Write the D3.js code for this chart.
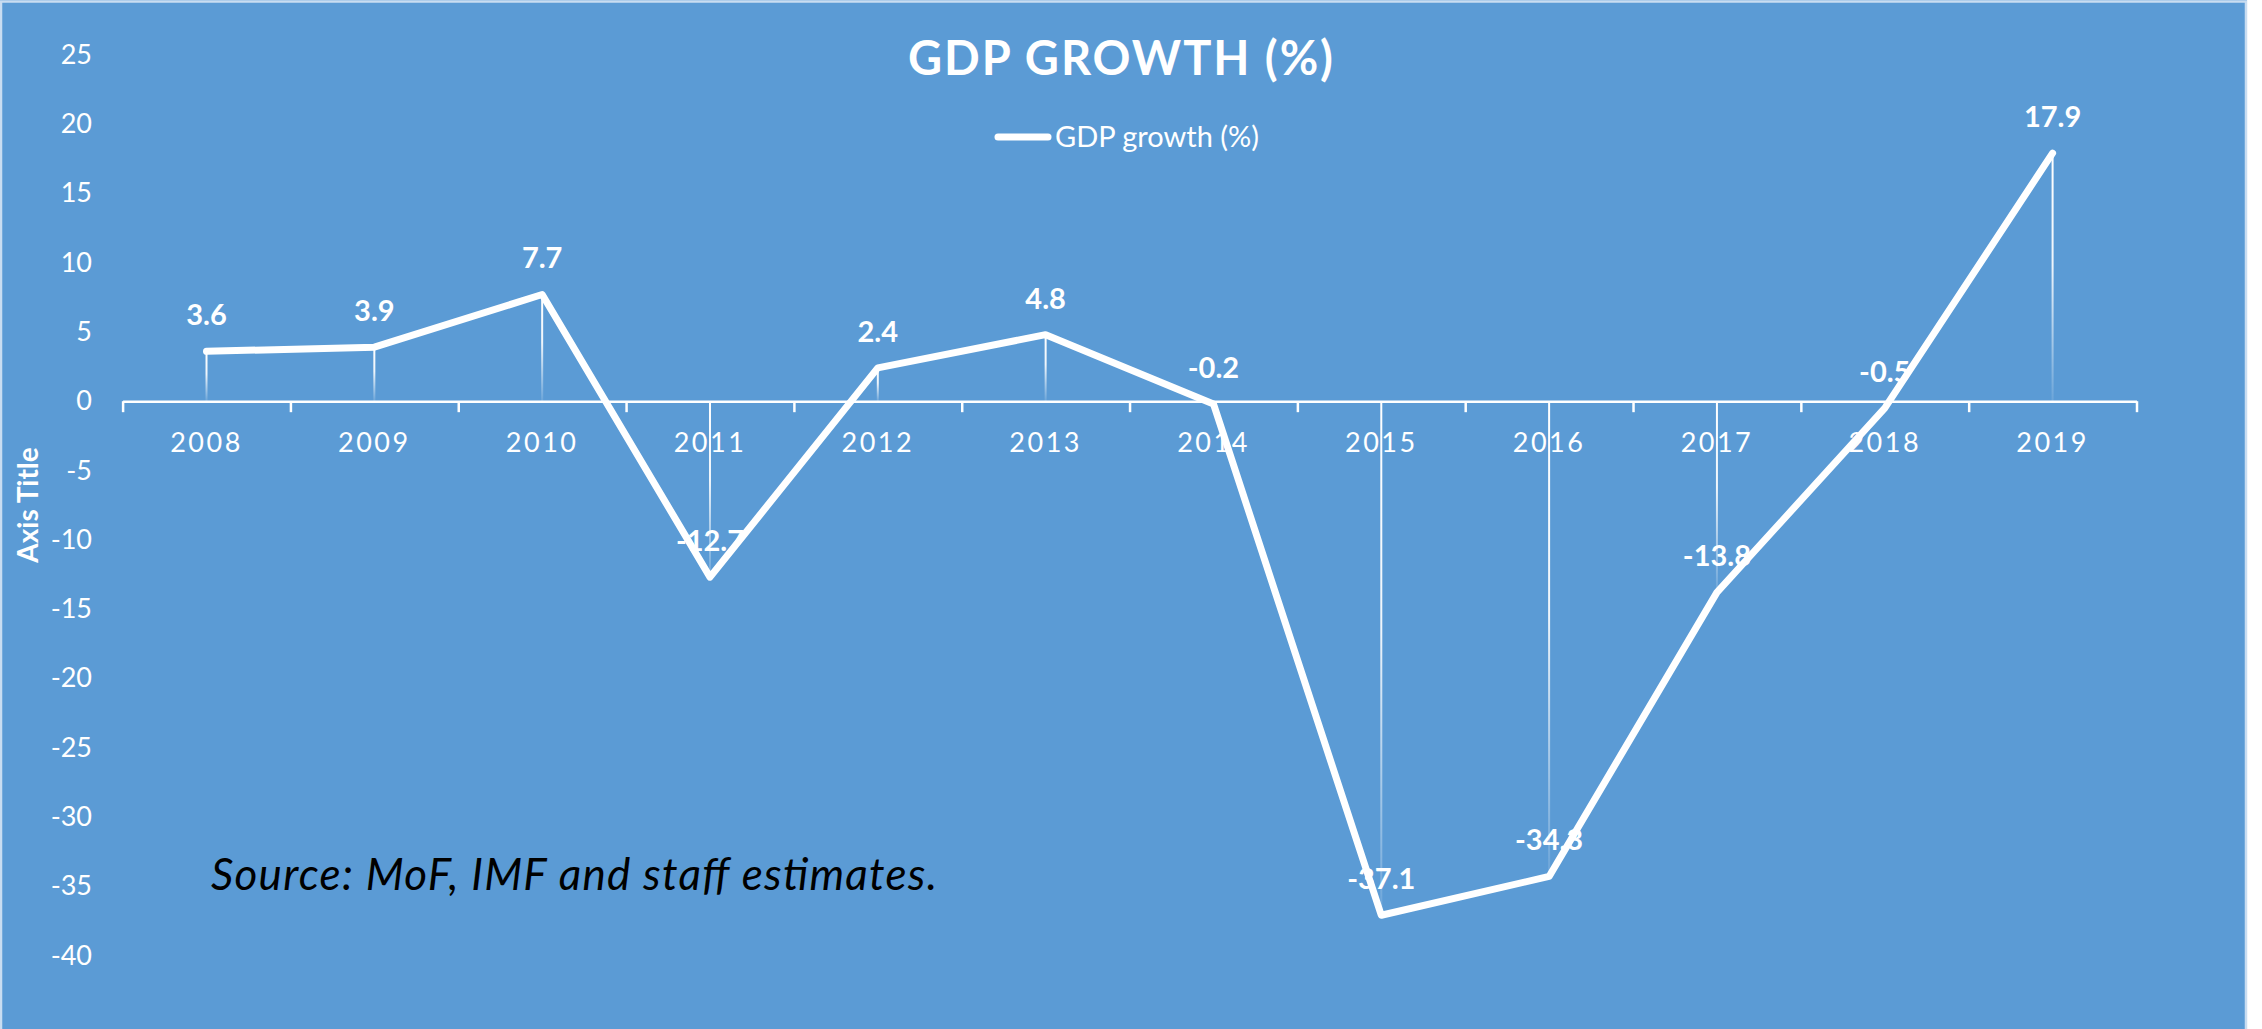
<!DOCTYPE html>
<html>
<head>
<meta charset="utf-8">
<script src="https://cdn.jsdelivr.net/npm/d3@7"></script>
<style>
  html, body { margin: 0; padding: 0; background: #ffffff; }
  svg { display: block; }
  text { font-family: Lato, "Open Sans", sans-serif; }
</style>
</head>
<body>
<svg id="chart" width="2262" height="1029"></svg>
<script>
// Annual GDP growth, percent
const years = ["2008", "2009", "2010", "2011", "2012", "2013", "2014", "2015", "2016", "2017", "2018", "2019"];
const growth = [3.6, 3.9, 7.7, -12.7, 2.4, 4.8, -0.2, -37.1, -34.3, -13.8, -0.5, 17.9];
const yTicks = [25, 20, 15, 10, 5, 0, -5, -10, -15, -20, -25, -30, -35, -40];

const chartTitle = "GDP GROWTH (%)";
const seriesName = "GDP growth (%)";
const yAxisTitle = "Axis Title";
const sourceNote = "Source: MoF, IMF and staff estimates.";

const W = 2262, H = 1029;
const panelW = 2247;
const bg = "#5B9BD5";
const fg = "#ffffff";

const svg = d3.select("#chart");
const defs = svg.append("defs");

// drop-line fade: bright at the top, fading towards the bottom
const grad = defs.append("linearGradient")
  .attr("id", "dropFade")
  .attr("x1", 0).attr("y1", 0).attr("x2", 0).attr("y2", 1);
grad.append("stop").attr("offset", "0%").attr("stop-color", "#fff").attr("stop-opacity", 1);
grad.append("stop").attr("offset", "45%").attr("stop-color", "#fff").attr("stop-opacity", 0.9);
grad.append("stop").attr("offset", "100%").attr("stop-color", "#fff").attr("stop-opacity", 0.1);

// panel
svg.append("rect").attr("x", 0).attr("y", 0).attr("width", panelW).attr("height", H).attr("fill", bg);
svg.append("path")
  .attr("d", `M1,${H} L1,1.5 L${panelW - 1},1.5 L${panelW - 1},${H}`)
  .attr("fill", "none").attr("stroke", "#c9ddf1").attr("stroke-width", 2.5);

// scales
const x = d3.scaleBand().domain(years).range([122.6, 2136.5]).padding(0);
const xEdge = d3.scaleLinear().domain([0, years.length]).range([122.6, 2136.5]);
const y = d3.scaleLinear().domain([-40, 25]).range([955.4, 54.8]);
const cx = d => x(d) + x.bandwidth() / 2;

// y axis: labels only
const yAxis = svg.append("g")
  .attr("transform", "translate(100,0)")
  .call(d3.axisLeft(y).tickValues(yTicks).tickSize(0).tickPadding(8).tickFormat(d => String(d)));
yAxis.select(".domain").remove();
yAxis.selectAll("text")
  .attr("fill", fg).attr("font-size", 27).attr("font-family", "Lato, sans-serif");

// drop lines from each point to the zero line
svg.append("g").selectAll("rect")
  .data(years.map((yr, i) => ({ yr, v: growth[i] })))
  .join("rect")
  .attr("x", d => cx(d.yr) - 1)
  .attr("y", d => Math.min(y(d.v), y(0)))
  .attr("width", 2)
  .attr("height", d => Math.abs(y(d.v) - y(0)))
  .attr("fill", "url(#dropFade)");

// x axis: line with ticks between categories
const xTickAxis = svg.append("g")
  .attr("transform", `translate(0,${y(0)})`)
  .call(d3.axisBottom(xEdge).tickValues(d3.range(years.length + 1)).tickSize(11).tickSizeOuter(0).tickFormat(""));
xTickAxis.select(".domain").attr("stroke", fg).attr("stroke-width", 2.5);
xTickAxis.selectAll(".tick line").attr("stroke", fg).attr("stroke-width", 2.5);

// x labels
const xLab = svg.append("g")
  .attr("transform", `translate(0,${y(0)})`)
  .call(d3.axisBottom(x).tickSize(0).tickPadding(32));
xLab.select(".domain").remove();
xLab.selectAll("text")
  .attr("fill", fg).attr("font-size", 27).attr("font-family", "Lato, sans-serif")
  .attr("letter-spacing", "2.5px");

// series line
const line = d3.line().x((d, i) => cx(years[i])).y(d => y(d));
svg.append("path")
  .datum(growth)
  .attr("d", line)
  .attr("fill", "none")
  .attr("stroke", fg)
  .attr("stroke-width", 7)
  .attr("stroke-linejoin", "round")
  .attr("stroke-linecap", "round");

// value labels above each point
svg.append("g").selectAll("text")
  .data(years.map((yr, i) => ({ yr, v: growth[i] })))
  .join("text")
  .attr("x", d => cx(d.yr))
  .attr("y", d => y(d.v) - 26)
  .attr("text-anchor", "middle")
  .attr("fill", fg)
  .attr("font-size", 29)
  .attr("font-weight", 700)
  .text(d => d.v.toFixed(1));

// title
svg.append("text")
  .attr("x", 1120.5).attr("y", 75)
  .attr("text-anchor", "middle")
  .attr("fill", fg)
  .attr("font-size", 47)
  .attr("font-weight", 700)
  .attr("textLength", 425)
  .attr("lengthAdjust", "spacing")
  .text(chartTitle);

// legend
svg.append("line")
  .attr("x1", 998).attr("x2", 1048).attr("y1", 137).attr("y2", 137)
  .attr("stroke", fg).attr("stroke-width", 7).attr("stroke-linecap", "round");
svg.append("text")
  .attr("x", 1055).attr("y", 147)
  .attr("fill", fg)
  .attr("font-size", 29)
  .text(seriesName);

// y axis title
svg.append("text")
  .attr("transform", "translate(27,505) rotate(-90)")
  .attr("text-anchor", "middle")
  .attr("dominant-baseline", "central")
  .attr("fill", fg)
  .attr("font-size", 28)
  .attr("font-weight", 700)
  .text(yAxisTitle);

// source note
svg.append("text")
  .attr("x", 211).attr("y", 890)
  .attr("fill", "#000000")
  .attr("font-size", 44)
  .attr("font-style", "italic")
  .attr("textLength", 726)
  .attr("lengthAdjust", "spacing")
  .text(sourceNote);
</script>
</body>
</html>
